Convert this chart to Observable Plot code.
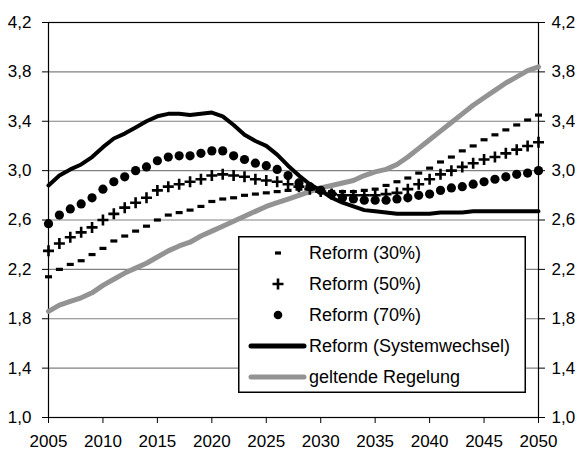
<!DOCTYPE html>
<html><head><meta charset="utf-8">
<script src="https://cdn.jsdelivr.net/npm/d3@7"></script>
<script src="https://cdn.jsdelivr.net/npm/@observablehq/plot@0.6"></script>
<style>
html,body{margin:0;padding:0;background:#fff;}
#wrap{position:relative;width:578px;height:454px;}
#legend{position:absolute;left:238px;top:236px;}
</style></head><body><div id="wrap"></div>
<script>
const years = [2005,2006,2007,2008,2009,2010,2011,2012,2013,2014,2015,2016,2017,2018,2019,2020,2021,2022,2023,2024,2025,2026,2027,2028,2029,2030,2031,2032,2033,2034,2035,2036,2037,2038,2039,2040,2041,2042,2043,2044,2045,2046,2047,2048,2049,2050];
const reform30 = [2.14,2.20,2.24,2.27,2.32,2.37,2.43,2.47,2.51,2.55, 2.60,2.64,2.66,2.68,2.71,2.75,2.77,2.78,2.80,2.81, 2.82,2.83,2.84,2.85,2.85,2.84,2.83,2.83,2.83,2.84, 2.85,2.88,2.91,2.94,2.98,3.02,3.07,3.11,3.16,3.20, 3.25,3.29,3.33,3.37,3.41,3.45];
const reform50 = [2.35,2.41,2.46,2.50,2.54,2.60,2.65,2.70,2.74,2.78, 2.84,2.87,2.89,2.91,2.93,2.96,2.97,2.96,2.95,2.93, 2.92,2.91,2.89,2.87,2.85,2.83,2.81,2.80,2.80,2.80, 2.80,2.81,2.82,2.85,2.89,2.93,2.97,3.00,3.03,3.06, 3.09,3.11,3.14,3.17,3.20,3.23];
const reform70 = [2.57,2.64,2.69,2.73,2.78,2.85,2.91,2.95,3.00,3.03, 3.08,3.11,3.12,3.12,3.14,3.16,3.16,3.12,3.09,3.06, 3.04,3.01,2.96,2.90,2.87,2.84,2.81,2.78,2.77,2.76, 2.76,2.76,2.77,2.78,2.80,2.81,2.84,2.86,2.87,2.89, 2.91,2.93,2.95,2.97,2.98,3.00];
const systemwechsel = [2.88,2.96,3.01,3.05,3.11,3.19,3.26,3.30,3.35,3.40, 3.44,3.46,3.46,3.45,3.46,3.47,3.44,3.37,3.29,3.24, 3.20,3.13,3.04,2.96,2.89,2.84,2.78,2.74,2.71,2.68, 2.67,2.66,2.65,2.65,2.65,2.65,2.66,2.66,2.66,2.67, 2.67,2.67,2.67,2.67,2.67,2.67];
const geltend = [1.86,1.91,1.94,1.97,2.01,2.07,2.12,2.17,2.21,2.25, 2.30,2.35,2.39,2.42,2.47,2.51,2.55,2.59,2.63,2.67, 2.71,2.74,2.77,2.80,2.83,2.86,2.88,2.90,2.92,2.96, 2.99,3.01,3.05,3.11,3.18,3.25,3.32,3.39,3.46,3.53, 3.59,3.65,3.71,3.76,3.81,3.84];
const yTicks = [1.0,1.4,1.8,2.2,2.6,3.0,3.4,3.8,4.2];
const xTicks = [2005,2010,2015,2020,2025,2030,2035,2040,2045,2050];
const legendLabels = ["Reform (30%)","Reform (50%)","Reform (70%)","Reform (Systemwechsel)","geltende Regelung"];

const rows = arr => years.map((year, i) => ({year, value: arr[i]}));
const fmt = d => d.toFixed(1).replace(".", ",");
const dashSym = {draw(ctx){ ctx.rect(-3.5,-1.6,7,3.2); }};
const plusSym = {draw(ctx){ ctx.moveTo(-5.5,0); ctx.lineTo(5.5,0); ctx.moveTo(0,-5.5); ctx.lineTo(0,5.5); }};
const FONT = "'Liberation Sans', Arial, Helvetica, sans-serif";

const chart = Plot.plot({
  width: 578, height: 454,
  marginLeft: 48, marginRight: 40, marginTop: 22, marginBottom: 37,
  style: {fontFamily: FONT, fontSize: "17px", color: "#000", background: "#fff", overflow: "visible"},
  x: {domain: [2005, 2050]},
  y: {domain: [1.0, 4.2]},
  marks: [
    Plot.ruleY(yTicks.slice(1, -1), {stroke: "#808080", strokeWidth: 1.2}),
    Plot.frame({stroke: "#000", strokeWidth: 1.2}),
    Plot.axisY({ticks: yTicks, tickFormat: fmt, anchor: "left", tickSize: 6, tickPadding: 11, label: null, fontSize: 17}),
    Plot.axisY({ticks: yTicks, tickFormat: fmt, anchor: "right", tickSize: 6, tickPadding: 7, label: null, fontSize: 17}),
    Plot.axisX({ticks: xTicks, tickFormat: d => String(d), tickSize: 6, tickPadding: 11, label: null, fontSize: 17}),
    Plot.line(rows(geltend), {x: "year", y: "value", stroke: "#939393", strokeWidth: 5, strokeLinejoin: "round"}),
    Plot.line(rows(systemwechsel), {x: "year", y: "value", stroke: "#000", strokeWidth: 4, strokeLinejoin: "round"}),
    Plot.dot(rows(reform30), {x: "year", y: "value", symbol: dashSym, fill: "#000", stroke: "none"}),
    Plot.dot(rows(reform50), {x: "year", y: "value", symbol: plusSym, fill: "none", stroke: "#000", strokeWidth: 2.6}),
    Plot.dot(rows(reform70), {x: "year", y: "value", r: 4.6, fill: "#000", stroke: "none"})
  ]
});
const wrap = document.getElementById("wrap");
wrap.appendChild(chart);

// Legend
const lw = 288, lh = 157;
const leg = d3.select(wrap).append("svg").attr("id", "legend").attr("width", lw).attr("height", lh)
  .style("font-family", FONT).style("font-size", "18px");
leg.append("rect").attr("x", 0.75).attr("y", 0.75).attr("width", lw - 1.5).attr("height", lh - 1.5)
  .attr("fill", "#fff").attr("stroke", "#000").attr("stroke-width", 1.5);
const rowY = i => 17 + i * 31;
legendLabels.forEach((lab, i) => {
  const g = leg.append("g").attr("transform", `translate(0,${rowY(i)})`);
  if (i === 0) g.append("rect").attr("x", 40 - 3).attr("y", -1.6).attr("width", 6).attr("height", 3.2).attr("fill", "#000");
  if (i === 1) g.append("path").attr("d", "M34.5,0H45.5M40,-5.5V5.5").attr("stroke", "#000").attr("stroke-width", 2.6);
  if (i === 2) g.append("circle").attr("cx", 40).attr("cy", 0).attr("r", 4.3).attr("fill", "#000");
  if (i === 3) g.append("line").attr("x1", 13).attr("x2", 66).attr("stroke", "#000").attr("stroke-width", 5).attr("stroke-linecap", "round");
  if (i === 4) g.append("line").attr("x1", 13).attr("x2", 66).attr("stroke", "#939393").attr("stroke-width", 5).attr("stroke-linecap", "round");
  g.append("text").attr("x", 71).attr("y", 0).attr("dy", "0.35em").attr("fill", "#000").text(lab);
});
</script></body></html>
